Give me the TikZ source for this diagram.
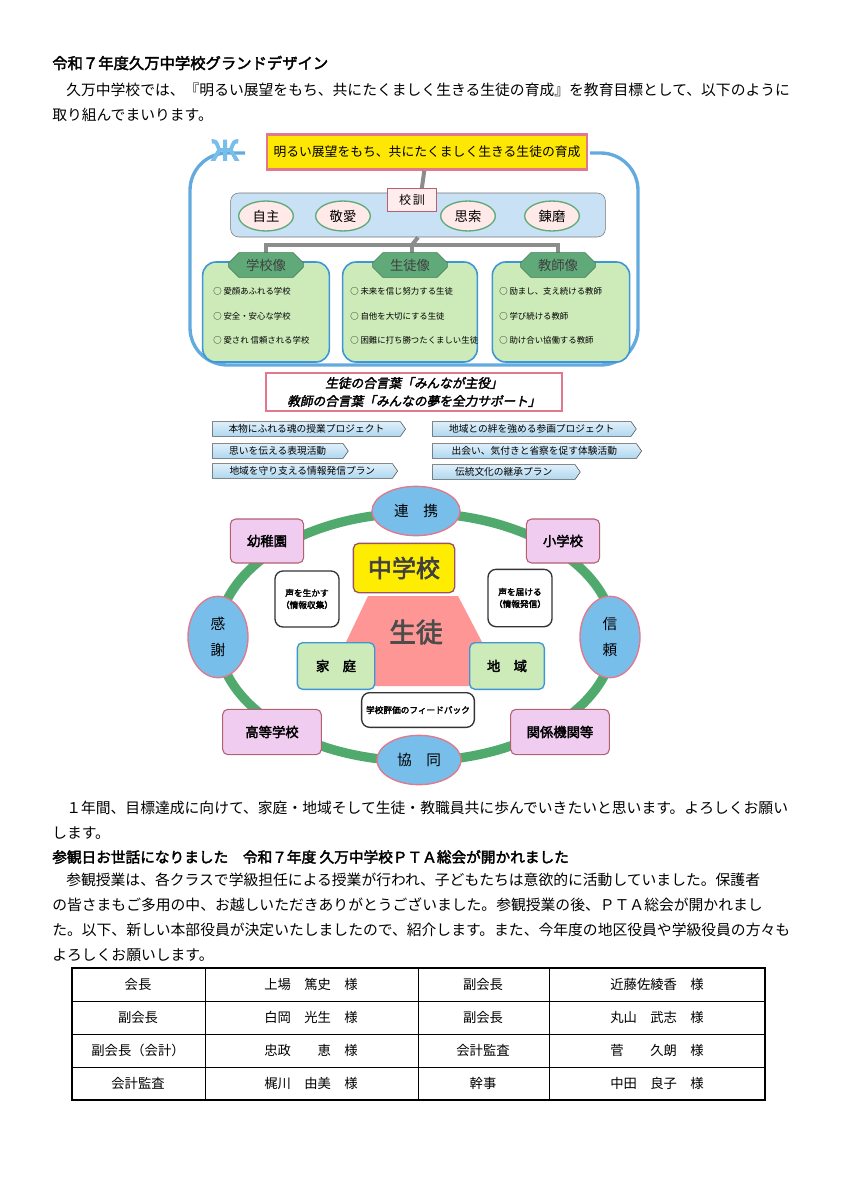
\documentclass[tikz,border=0pt]{standalone}
\usepackage{fontspec}
\setmainfont{Noto Sans CJK JP}
\newfontfamily\jb[FakeBold=2.5]{Noto Sans CJK JP}
\newfontfamily\jbs[FakeBold=2.5,FakeSlant=0.2]{Noto Sans CJK JP}
\usetikzlibrary{shapes.geometric,shapes.symbols,shapes.misc}
\definecolor{ringgreen}{RGB}{80,170,110}
\definecolor{skyblue}{RGB}{120,190,235}
\definecolor{paleblue}{RGB}{200,225,245}
\definecolor{palegreen}{RGB}{205,235,185}
\definecolor{hexgreen}{RGB}{95,170,120}
\definecolor{pinkline}{RGB}{225,120,140}
\definecolor{mauve}{RGB}{240,205,240}
\definecolor{boxblue}{RGB}{60,150,215}
\definecolor{tagblue}{RGB}{175,215,240}
\tikzset{
  body/.style={anchor=west,inner sep=0pt,font=\fontsize{11.1}{12}\selectfont},
  oval/.style={ellipse,draw=hexgreen,line width=1pt,fill=pink!35,minimum width=41pt,minimum height=22pt,font=\fontsize{10}{12}\selectfont},
  face/.style={draw=boxblue,line width=1.2pt,rounded corners=10pt,fill=palegreen},
  hexlab/.style={chamfered rectangle,chamfered rectangle xsep=4pt,fill=hexgreen,draw=hexgreen!70!black,minimum width=56pt,minimum height=16pt,inner sep=1pt,font=\fontsize{10}{12}\selectfont\color{black!75}},
  item/.style={anchor=west,inner sep=0pt,font=\fontsize{6.3}{8}\selectfont},
  tag/.style={signal,signal to=east,signal pointer angle=110,draw=black!70,top color=tagblue!40,bottom color=tagblue,anchor=west,minimum height=11pt,inner sep=1.5pt,font=\fontsize{7.3}{9}\selectfont},
  bubble/.style={ellipse,draw=pinkline,line width=1pt,fill=skyblue,font=\fontsize{11}{20}\selectfont,align=center},
  partner/.style={draw=pinkline!80!black,rounded corners=4pt,fill=mauve,line width=0.8pt,font=\jb\fontsize{10}{12}\selectfont},
  voice/.style={draw=black!80,rounded corners=6pt,fill=white,line width=1pt,font=\jb\fontsize{6.5}{9}\selectfont,align=center},
  cell/.style={font=\fontsize{10}{12}\selectfont}
}
\begin{document}
\begin{tikzpicture}[x=0.75pt,y=0.75pt,yscale=-1,xscale=1]
\useasboundingbox (0,0) rectangle (849,1200);
\fill[white] (0,0) rectangle (849,1200);

% heading and intro
\node[body,font=\jb\fontsize{11.5}{14}\selectfont] (title) at (52,63) {令和７年度久万中学校グランドデザイン};
\node[body] (intro1) at (66,90) {久万中学校では、『明るい展望をもち、共にたくましく生きる生徒の育成』を教育目標として、以下のように};
\node[body] (intro2) at (52,115) {取り組んでまいります。};

% grand design frame
\draw[boxblue!80,line width=2.5pt,rounded corners=28pt] (245,153) -- (190,153) -- (190,365) -- (638,365) -- (638,153) -- (590,153);
\node[font=\jb\fontsize{28}{28}\selectfont,text=skyblue] (logo) at (225,150) {ж};
\node[draw=pinkline,line width=2pt,fill=yellow!90!orange,minimum width=240pt,minimum height=26pt,font=\fontsize{9.6}{12}\selectfont] (goal) at (427,152) {明るい展望をもち、共にたくましく生きる生徒の育成};
\node[draw=black!55,fill=paleblue,rounded corners=6pt,minimum width=281pt,minimum height=33pt] (motto) at (418,215) {};
\draw[black!45,line width=3pt] (goal) -- (motto);
\node[draw=pinkline!80!black,fill=pink!30,line width=1pt,minimum width=37pt,minimum height=17pt,font=\fontsize{9}{12}\selectfont] (kokun) at (412,200) {校\,訓};
\node[oval] (o1) at (266,216) {自主};
\node[oval] (o2) at (343,216) {敬愛};
\node[oval] (o3) at (468,216) {思索};
\node[oval] (o4) at (552,216) {錬磨};

% three images
\coordinate (split) at (412,245);
\node[face,minimum width=95pt,minimum height=75pt] (school) at (266,312) {};
\node[face,minimum width=101pt,minimum height=75pt] (pupil) at (410,312) {};
\node[face,minimum width=103pt,minimum height=75pt] (teacher) at (561,312) {};
\draw[black!45,line width=3pt] (motto.south) -- (split);
\draw[black!45,line width=3pt] (266,263) |- (split) -| (558,263);
\draw[black!45,line width=3pt] (split) -- (412,263);
\node[hexlab] (h1) at (266,265) {学校像};
\node[hexlab] (h2) at (410,265) {生徒像};
\node[hexlab] (h3) at (558,265) {教師像};
\foreach \t [count=\i] in {愛顔あふれる学校,安全・安心な学校,愛され 信頼される学校}
  \node[item] (s\i) at (213,267+24.5*\i) {○ \t};
\foreach \t [count=\i] in {未来を信じ努力する生徒,自他を大切にする生徒,困難に打ち勝つたくましい生徒}
  \node[item] (p\i) at (350,267+24.5*\i) {○ \t};
\foreach \t [count=\i] in {励まし、支え続ける教師,学び続ける教師,助け合い協働する教師}
  \node[item] (t\i) at (499,267+24.5*\i) {○ \t};

% banner
\node[draw=pinkline,line width=1.5pt,fill=white,minimum width=222pt,minimum height=29pt,align=center,font=\jbs\fontsize{9.5}{13.5}\selectfont] (banner) at (414,392) {生徒の合言葉「みんなが主役」\\教師の合言葉「みんなの夢を全力サポート」};
\node[tag,minimum width=145pt] (a1) at (212,429) {本物にふれる魂の授業プロジェクト};
\node[tag,minimum width=102pt] (a2) at (212,451) {思いを伝える表現活動};
\node[tag,minimum width=139pt] (a3) at (212,471) {地域を守り支える情報発信プラン};
\node[tag,minimum width=153pt] (b1) at (432,429) {地域との絆を強める参画プロジェクト};
\node[tag,minimum width=157pt] (b2) at (432,451) {出会い、気付きと省察を促す体験活動};
\node[tag,minimum width=111pt] (b3) at (432,472) {伝統文化の継承プラン};

% cooperation ring
\draw[ringgreen,line width=7pt] (416,637) ellipse (198 and 124);
\fill[red!55,opacity=0.75] (368,596) -- (458,596) -- (505,686) -- (325,686) -- cycle;
\node[font=\jb\fontsize{20}{20}\selectfont,text=black!70] (seito) at (416,632) {生徒};
\node[draw=pinkline!70!black,fill=yellow!95!orange,line width=1pt,rounded corners=4pt,minimum width=76pt,minimum height=37pt,font=\jb\fontsize{18}{18}\selectfont,text=black!75] (jhs) at (404,568) {中学校};
\node[draw=boxblue,fill=palegreen,line width=1pt,rounded corners=4pt,minimum width=58pt,minimum height=35pt,font=\jb\fontsize{10}{12}\selectfont] (home) at (336,666) {家\quad 庭};
\node[draw=boxblue,fill=palegreen,line width=1pt,rounded corners=4pt,minimum width=56pt,minimum height=35pt,font=\jb\fontsize{10}{12}\selectfont] (area) at (507,666) {地\quad 域};
\node[voice,minimum width=48pt,minimum height=42pt] (v1) at (307,599) {声を生かす\\（情報収集）};
\node[voice,minimum width=48pt,minimum height=43pt] (v2) at (520,598) {声を届ける\\（情報発信）};
\node[voice,minimum width=84pt,minimum height=26pt] (fb) at (418,710) {学校評価のフィードバック};
\node[bubble,minimum width=66pt,minimum height=37pt] (renkei) at (416,511) {連\quad 携};
\node[bubble,minimum width=63pt,minimum height=37pt] (kyodo) at (419,760) {協\quad 同};
\node[bubble,minimum width=45pt,minimum height=61pt] (kansha) at (218,637) {感\\謝};
\node[bubble,minimum width=45pt,minimum height=61pt] (shinrai) at (610,637) {信\\頼};
\node[partner,minimum width=55pt,minimum height=33pt] (yochi) at (267,541) {幼稚園};
\node[partner,minimum width=55pt,minimum height=33pt] (sho) at (563,541) {小学校};
\node[partner,minimum width=74pt,minimum height=34pt] (koko) at (272,732) {高等学校};
\node[partner,minimum width=74pt,minimum height=34pt] (kikan) at (560,732) {関係機関等};

% closing text
\node[body] (close1) at (66,808) {１年間、目標達成に向けて、家庭・地域そして生徒・教職員共に歩んでいきたいと思います。よろしくお願い};
\node[body] (close2) at (52,833) {します。};
\node[body,font=\jb\fontsize{11}{14}\selectfont] (pta) at (52,857) {参観日お世話になりました\quad 令和７年度 久万中学校ＰＴＡ総会が開かれました};
\node[body] (para1) at (66,880) {参観授業は、各クラスで学級担任による授業が行われ、子どもたちは意欲的に活動していました。保護者};
\node[body] (para2) at (52,905) {の皆さまもご多用の中、お越しいただきありがとうございました。参観授業の後、ＰＴＡ総会が開かれまし};
\node[body] (para3) at (52,930) {た。以下、新しい本部役員が決定いたしましたので、紹介します。また、今年度の地区役員や学級役員の方々も};
\node[body] (para4) at (52,955) {よろしくお願いします。};

% officer table
\draw[line width=0.8pt] (72,968) rectangle (765,1100);
\draw[line width=1.6pt] (72,968) -- (72,1100);
\foreach \yy in {1001,1034,1067} \draw[line width=0.6pt] (72,\yy) -- (765,\yy);
\foreach \xx in {205,418,549} \draw[line width=0.6pt] (\xx,968) -- (\xx,1100);
\foreach \ra/\na/\rb/\nb [count=\r] in {会長/上場\quad 篤史\quad 様/副会長/近藤佐綾香\quad 様,
  副会長/白岡\quad 光生\quad 様/副会長/丸山\quad 武志\quad 様,
  副会長（会計）/忠政\qquad 恵\quad 様/会計監査/菅\qquad 久朗\quad 様,
  会計監査/梶川\quad 由美\quad 様/幹事/中田\quad 良子\quad 様}{
  \node[cell] (ra\r) at (138,951.5+33*\r) {\ra};
  \node[cell] (na\r) at (311,951.5+33*\r) {\na};
  \node[cell] (rb\r) at (483,951.5+33*\r) {\rb};
  \node[cell] (nb\r) at (657,951.5+33*\r) {\nb};
}
\end{tikzpicture}
\end{document}
